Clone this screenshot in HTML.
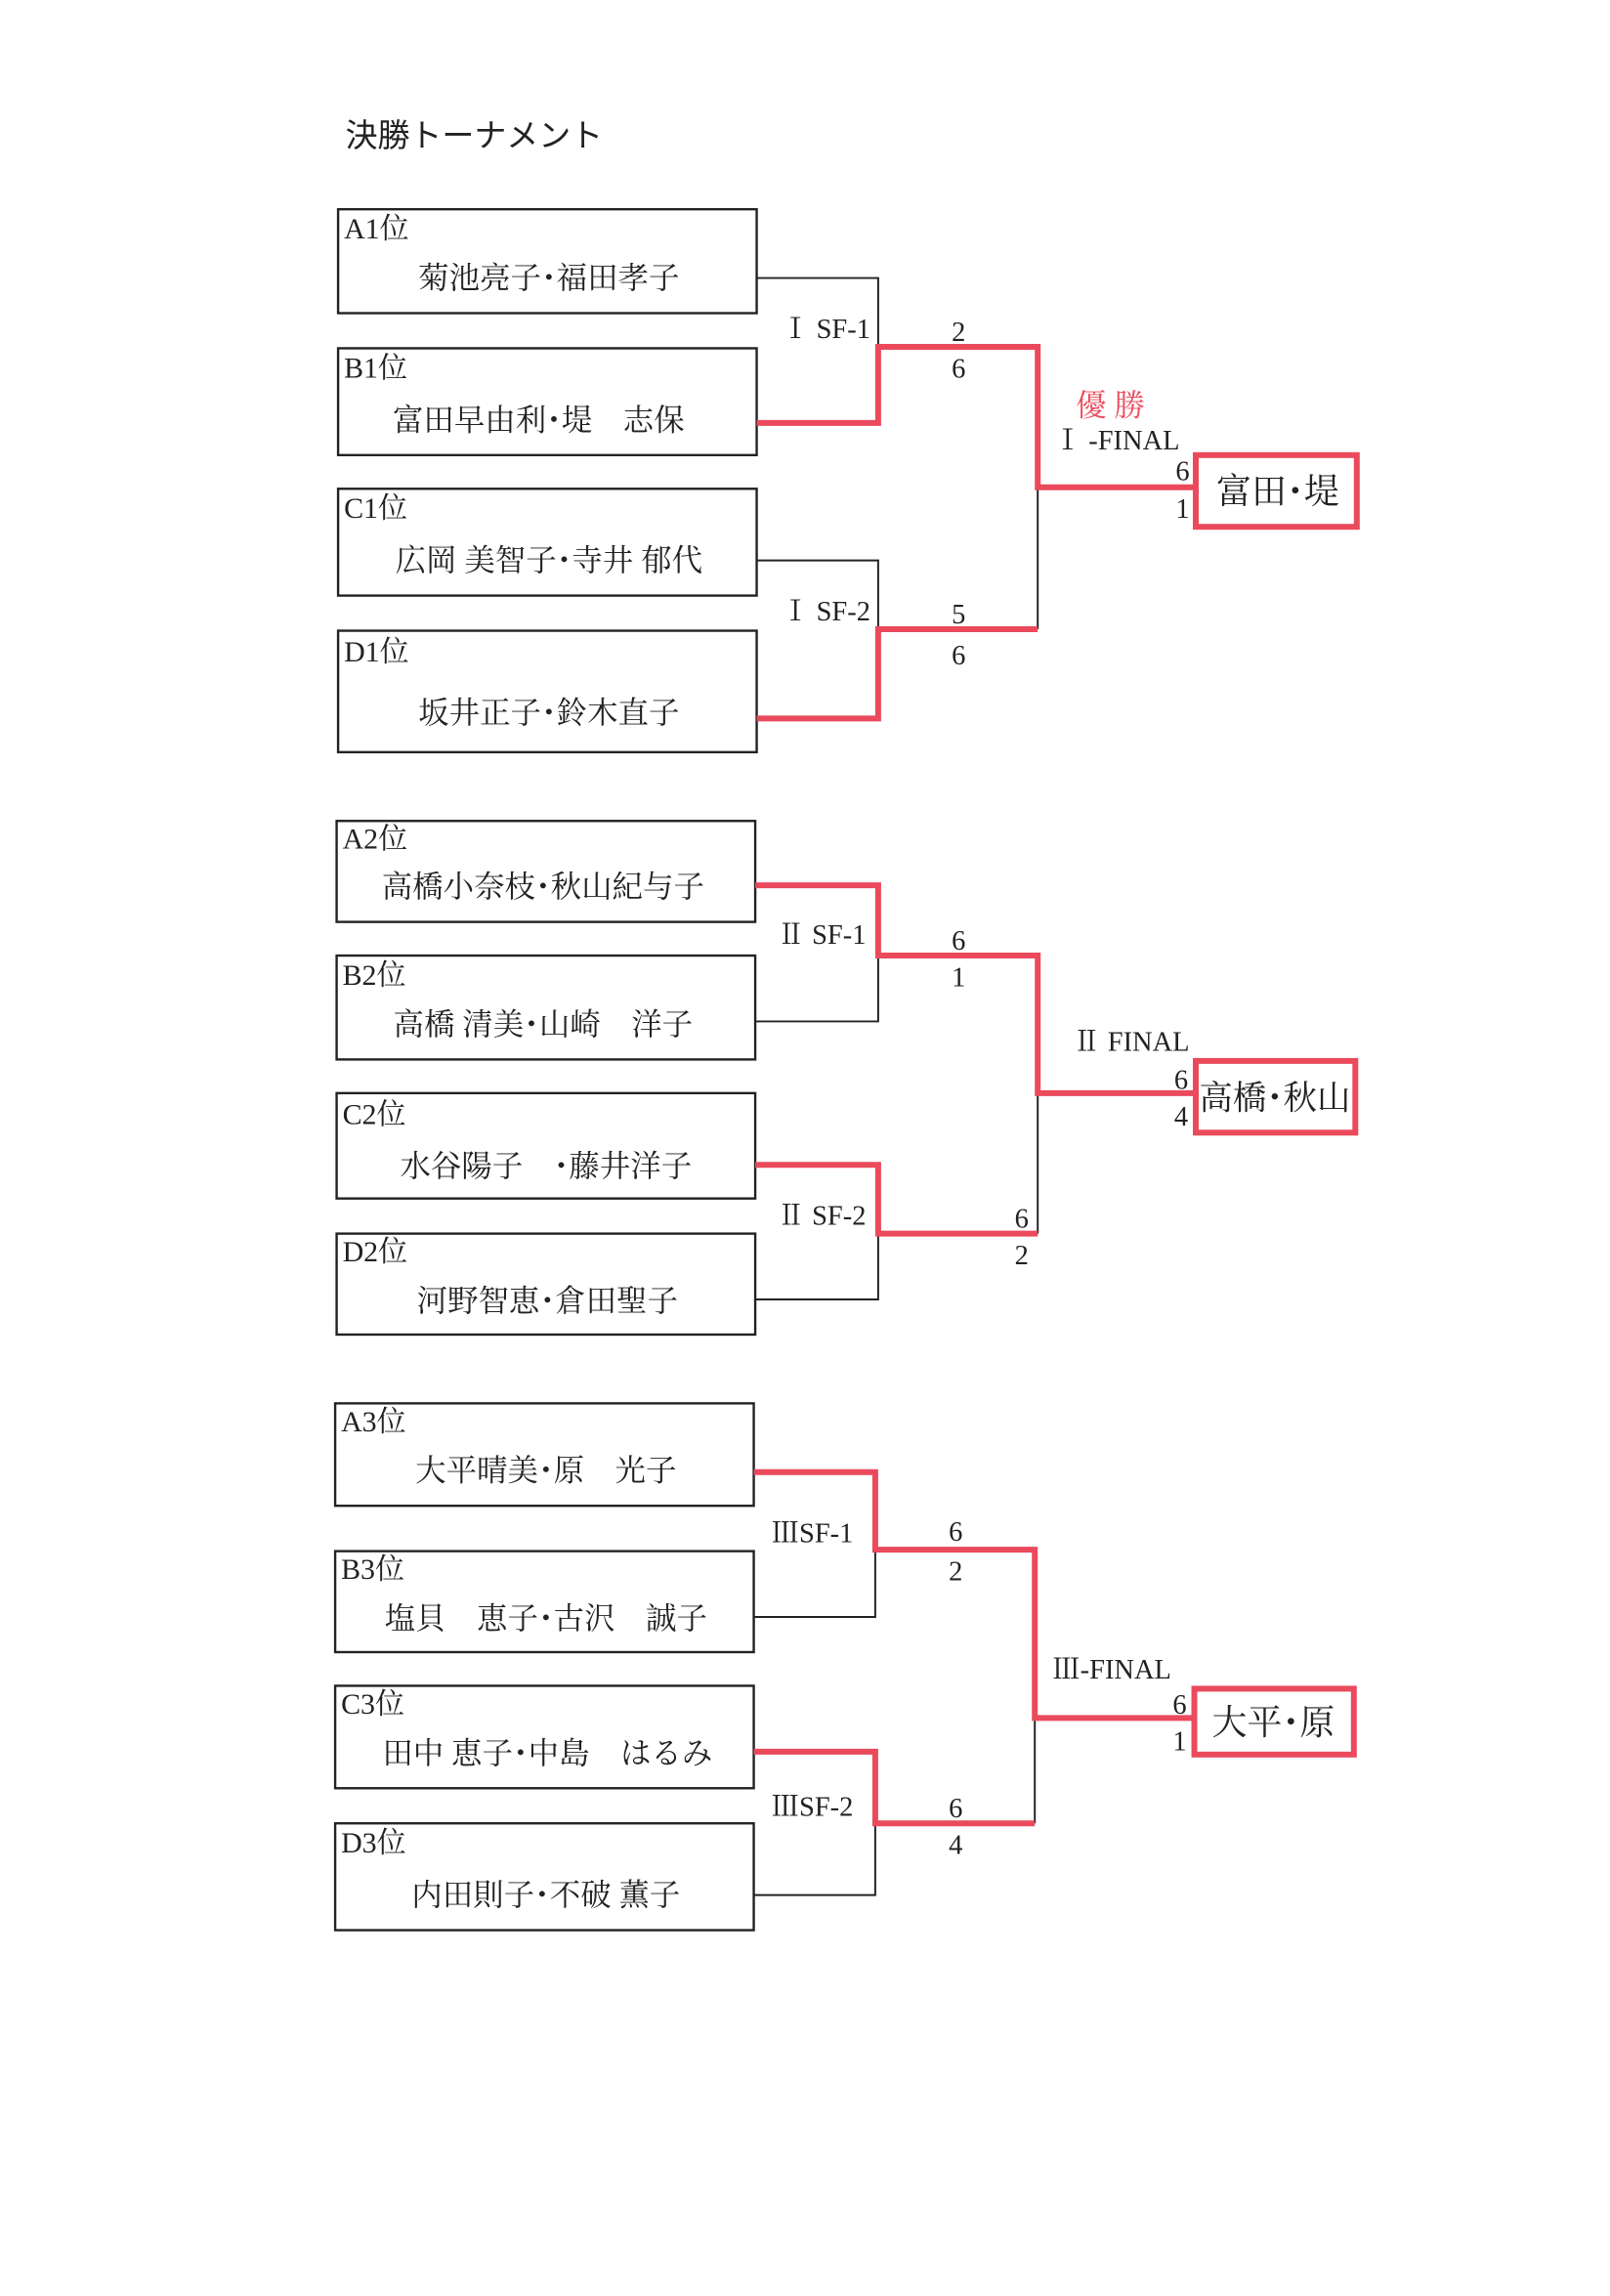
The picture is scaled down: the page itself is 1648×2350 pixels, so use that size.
<!DOCTYPE html>
<html><head><meta charset="utf-8"><style>
html,body{margin:0;padding:0;background:#fff}
svg{display:block}
text{font-family:"Liberation Serif","Noto Serif CJK SC","Noto Serif CJK JP",serif;fill:#222}
.lb{font-size:20px}
.nm{font-size:21px;text-anchor:middle}
.sc{font-size:19px;text-anchor:middle}
.rd{fill:none;stroke:#ea4a5c;stroke-width:4}
.bk{fill:none;stroke:#222;stroke-width:1.3}
.bx{fill:none;stroke:#222;stroke-width:1.6}
.wn{font-size:24px;text-anchor:middle}
</style></head><body>
<svg width="1648" height="2350" viewBox="0 0 1100 1569" preserveAspectRatio="none">
<text x="236" y="100" style="font-size:22px;font-family:'Noto Sans CJK JP','Liberation Sans',sans-serif">決勝トーナメント</text>

<!-- Section 1 -->
<rect class="bx" x="231" y="143" width="286" height="71"/>
<rect class="bx" x="231" y="238" width="286" height="73"/>
<rect class="bx" x="231" y="334" width="286" height="73"/>
<rect class="bx" x="231" y="431" width="286" height="83"/>
<text class="lb" x="235" y="163">A1位</text><text class="nm" x="375" y="197">菊池亮子･福田孝子</text>
<text class="lb" x="235" y="258">B1位</text><text class="nm" x="368" y="294">富田早由利･堤　志保</text>
<text class="lb" x="235" y="354">C1位</text><text class="nm" x="375" y="390">広岡 美智子･寺井 郁代</text>
<text class="lb" x="235" y="452">D1位</text><text class="nm" x="375" y="494">坂井正子･鈴木直子</text>
<polyline class="bk" points="517,190 600,190 600,237"/>
<polyline class="bk" points="517,383 600,383 600,430"/>
<line class="bk" x1="709" y1="333" x2="709" y2="430"/>
<polyline class="rd" points="517,289 600,289 600,237 709,237 709,333 817,333"/>
<polyline class="rd" points="517,491 600,491 600,430 709,430"/>
<text class="lb" x="534" y="231" style="font-size:19px">Ⅰ SF-1</text>
<text class="lb" x="534" y="424" style="font-size:19px">Ⅰ SF-2</text>
<text class="sc" x="655" y="233">2</text><text class="sc" x="655" y="258">6</text>
<text class="sc" x="655" y="426">5</text><text class="sc" x="655" y="454">6</text>
<text x="735" y="284" style="font-size:21px;fill:#ea4a5c">優 勝</text>
<text x="720" y="307" style="font-size:19px">Ⅰ -FINAL</text>
<text class="sc" x="808" y="328">6</text><text class="sc" x="808" y="354">1</text>
<rect x="817" y="311" width="110" height="49" fill="none" stroke="#ea4a5c" stroke-width="4"/>
<text class="wn" x="873" y="344">富田･堤</text>

<!-- Section 2 -->
<rect class="bx" x="230" y="561" width="286" height="69"/>
<rect class="bx" x="230" y="653" width="286" height="71"/>
<rect class="bx" x="230" y="747" width="286" height="72"/>
<rect class="bx" x="230" y="843" width="286" height="69"/>
<text class="lb" x="234" y="580">A2位</text><text class="nm" x="371" y="613">高橋小奈枝･秋山紀与子</text>
<text class="lb" x="234" y="673">B2位</text><text class="nm" x="371" y="707">高橋 清美･山崎　洋子</text>
<text class="lb" x="234" y="768">C2位</text><text class="nm" x="373" y="804">水谷陽子　･藤井洋子</text>
<text class="lb" x="234" y="862">D2位</text><text class="nm" x="374" y="896">河野智恵･倉田聖子</text>
<polyline class="bk" points="516,698 600,698 600,653"/>
<polyline class="bk" points="516,888 600,888 600,843"/>
<line class="bk" x1="709" y1="747" x2="709" y2="843"/>
<polyline class="rd" points="516,605 600,605 600,653 709,653 709,747 817,747"/>
<polyline class="rd" points="516,796 600,796 600,843 709,843"/>
<text class="lb" x="531" y="645" style="font-size:19px">Ⅱ SF-1</text>
<text class="lb" x="531" y="837" style="font-size:19px">Ⅱ SF-2</text>
<text class="sc" x="655" y="649">6</text><text class="sc" x="655" y="674">1</text>
<text class="sc" x="698" y="839">6</text><text class="sc" x="698" y="864">2</text>
<text x="733" y="718" style="font-size:19px">Ⅱ FINAL</text>
<text class="sc" x="807" y="744">6</text><text class="sc" x="807" y="769">4</text>
<rect x="817" y="725" width="109" height="49" fill="none" stroke="#ea4a5c" stroke-width="4"/>
<text class="wn" x="871" y="758" style="font-size:23px">高橋･秋山</text>

<!-- Section 3 -->
<rect class="bx" x="229" y="959" width="286" height="70"/>
<rect class="bx" x="229" y="1060" width="286" height="69"/>
<rect class="bx" x="229" y="1152" width="286" height="70"/>
<rect class="bx" x="229" y="1246" width="286" height="73"/>
<text class="lb" x="233" y="978">A3位</text><text class="nm" x="373" y="1012">大平晴美･原　光子</text>
<text class="lb" x="233" y="1079">B3位</text><text class="nm" x="373" y="1113">塩貝　恵子･古沢　誠子</text>
<text class="lb" x="233" y="1171">C3位</text><text class="nm" x="374" y="1205">田中 恵子･中島　はるみ</text>
<text class="lb" x="233" y="1266">D3位</text><text class="nm" x="373" y="1302">内田則子･不破 薫子</text>
<polyline class="bk" points="515,1105 598,1105 598,1059"/>
<polyline class="bk" points="515,1295 598,1295 598,1246"/>
<line class="bk" x1="707" y1="1174" x2="707" y2="1246"/>
<polyline class="rd" points="515,1006 598,1006 598,1059 707,1059 707,1174 815,1174"/>
<polyline class="rd" points="515,1197 598,1197 598,1246 707,1246"/>
<text class="lb" x="527" y="1054" style="font-size:19px">ⅢSF-1</text>
<text class="lb" x="527" y="1241" style="font-size:19px">ⅢSF-2</text>
<text class="sc" x="653" y="1053">6</text><text class="sc" x="653" y="1080">2</text>
<text class="sc" x="653" y="1242">6</text><text class="sc" x="653" y="1267">4</text>
<text x="719" y="1147" style="font-size:19px">Ⅲ-FINAL</text>
<text class="sc" x="806" y="1171">6</text><text class="sc" x="806" y="1196">1</text>
<rect x="816" y="1154" width="109" height="45" fill="none" stroke="#ea4a5c" stroke-width="4"/>
<text class="wn" x="870" y="1185">大平･原</text>
</svg>
</body></html>
